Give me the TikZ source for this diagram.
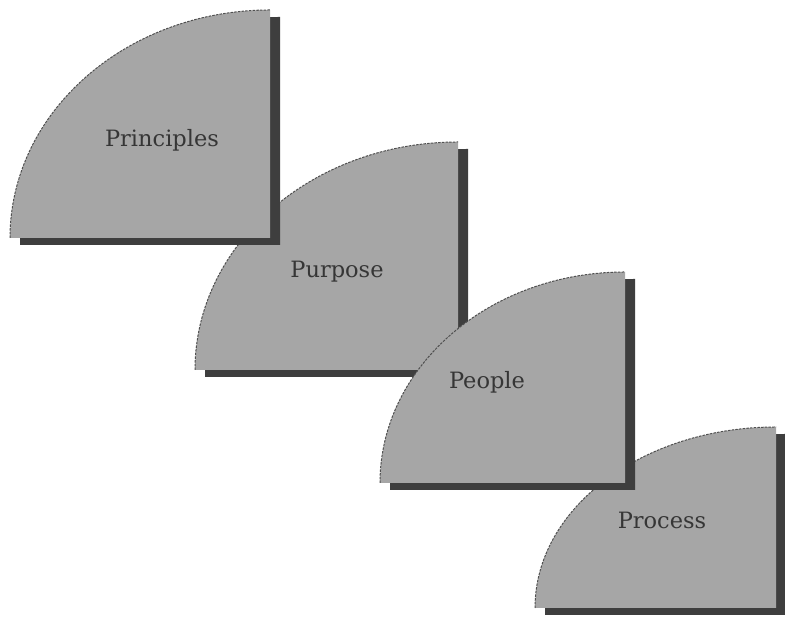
\documentclass[tikz,border=0pt]{standalone}
\usepackage{fontspec}
\newfontfamily\qfont{DejaVu Serif}
\definecolor{qgray}{HTML}{A6A6A6}
\definecolor{qdark}{HTML}{3E3E3E}
\definecolor{qline}{HTML}{505050}
\definecolor{qtext}{HTML}{363636}
\tikzset{
  qfill/.style={fill=qgray},
  qshadow/.style={fill=qdark},
  qedge/.style={draw=qline, line width=1pt, dash pattern=on 2.5pt off 1.2pt},
  qlabel/.style={text=qtext, font=\qfont\fontsize{22.5}{26}\selectfont, inner sep=0pt}
}
% #1 cx, #2 cy, #3 rx, #4 ry, #5 name, #6 text, #7 lx, #8 ly
\newcommand{\qpiece}[8]{%
  \fill[qshadow] ({#1-#3+10},{#2-7}) arc[start angle=180,end angle=90,x radius=#3,y radius=#4] -- ({#1+10},{#2-7}) -- cycle;
  \fill[qfill] ({#1-#3},#2) arc[start angle=180,end angle=90,x radius=#3,y radius=#4] -- (#1,#2) -- cycle;
  \draw[qedge] ({#1-#3},#2) arc[start angle=180,end angle=90,x radius=#3,y radius=#4];
  \node[qlabel] (#5) at (#7,#8) {#6};
}
\begin{document}
\begin{tikzpicture}[x=1pt,y=1pt]
  \useasboundingbox (0,0) rectangle (785,617);
  \qpiece{776}{9}{241}{181}{process}{Process}{662}{97}
  \qpiece{458}{247}{263}{228}{purpose}{Purpose}{337}{345}
  \qpiece{270}{379}{260}{228}{principles}{Principles}{162}{477}
  \qpiece{625}{134}{245}{211}{people}{People}{487}{235}
\end{tikzpicture}
\end{document}
